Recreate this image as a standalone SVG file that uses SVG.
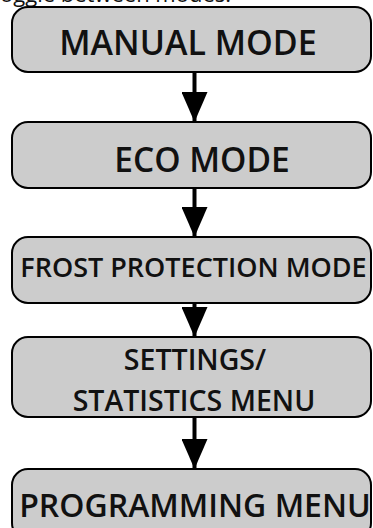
<svg xmlns="http://www.w3.org/2000/svg" width="373" height="528" viewBox="0 0 373 528">
  <style>
    .box { fill: #cccccc; stroke: #000000; stroke-width: 2; }
    .lbl { font-family: "Open Sans", "Noto Sans", "DejaVu Sans", sans-serif; font-weight: 600; fill: #111111; text-anchor: middle; }
    .cap { font-family: "Open Sans", "Noto Sans", "DejaVu Sans", sans-serif; font-weight: 400; fill: #111111; }
    .conn { stroke: #000000; stroke-width: 4; fill: none; marker-end: url(#arrow); }
  </style>
  <defs>
    <marker id="arrow" viewBox="0 0 30 26" refX="30" refY="13" markerWidth="30" markerHeight="26" markerUnits="userSpaceOnUse" orient="auto">
      <path d="M0,0 L30,13 L0,26 z" fill="#000000"/>
    </marker>
  </defs>

  <text class="cap" x="0" y="2" font-size="22">oggle between modes.</text>

  <g id="connectors">
    <path class="conn" d="M194.5,72 L194.5,122"/>
    <path class="conn" d="M194.5,188 L194.5,237"/>
    <path class="conn" d="M194.5,303 L194.5,337"/>
    <path class="conn" d="M194.5,417 L194.5,469"/>
  </g>

  <g id="manual-mode">
    <rect class="box" x="12" y="7" width="359" height="65" rx="16"/>
    <text class="lbl" x="188" y="55" font-size="34">MANUAL MODE</text>
  </g>

  <g id="eco-mode">
    <rect class="box" x="12" y="122" width="359" height="66" rx="16"/>
    <text class="lbl" x="202" y="172" font-size="33.5">ECO MODE</text>
  </g>

  <g id="frost-protection-mode">
    <rect class="box" x="12" y="237" width="359" height="66" rx="16"/>
    <text class="lbl" x="193.5" y="277" font-size="27">FROST PROTECTION MODE</text>
  </g>

  <g id="settings-statistics-menu">
    <rect class="box" x="12" y="337" width="359" height="80" rx="16"/>
    <text class="lbl" x="195" y="370" font-size="28.5">SETTINGS/</text>
    <text class="lbl" x="194" y="411" font-size="28.5">STATISTICS MENU</text>
  </g>

  <g id="programming-menu">
    <rect class="box" x="12" y="469" width="359" height="70" rx="16"/>
    <text class="lbl" x="195" y="517" font-size="32">PROGRAMMING MENU</text>
  </g>
</svg>
